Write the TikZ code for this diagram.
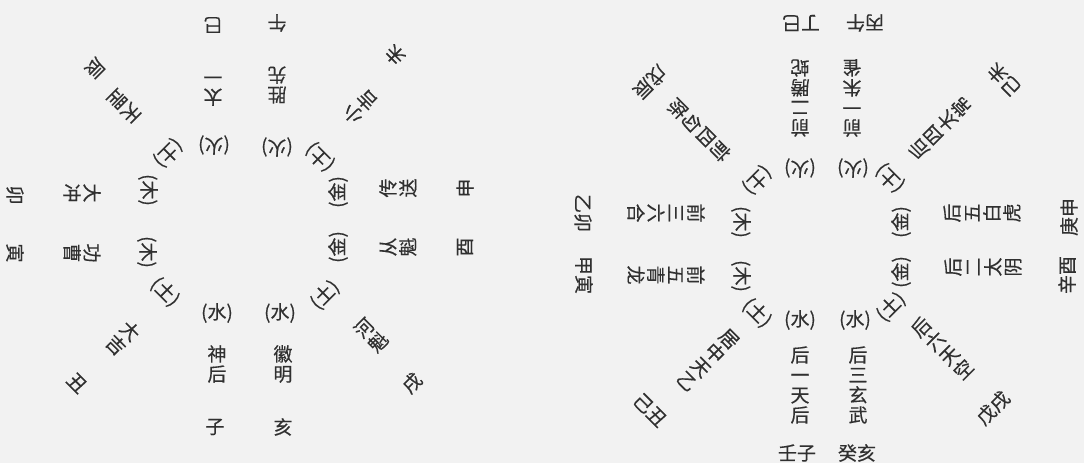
\documentclass[tikz,border=0pt]{standalone}
\usepackage{fontspec}
\newfontfamily\cjk[FakeBold=0.3]{Noto Sans CJK SC}
\definecolor{bg}{RGB}{242,242,242}
\definecolor{ink}{RGB}{48,48,48}
\tikzset{
  ch/.style={font=\cjk\fontsize{19}{20}\selectfont, text=ink, inner sep=0pt, align=center},
  dT/.style={ch, rotate=180},
  dTL/.style={ch, rotate=-135},
  dL/.style={ch, rotate=-90},
  dBL/.style={ch, rotate=-45},
  dB/.style={ch},
  dBR/.style={ch, rotate=45},
  dR/.style={ch, rotate=90},
  dTR/.style={ch, rotate=135}
}
\begin{document}
\begin{tikzpicture}[x=1pt,y=1pt]
\fill[bg] (0,0) rectangle (1084,-463);
\useasboundingbox (0,0) rectangle (1084,-463);
% ---------------- left diagram ----------------
% top
\node[dT] (Lsi) at (213,-25) {巳};
\node[dT] (Lwu) at (277,-23) {午};
\node[dT] (Lsin) at (213,-88) {太\\一};
\node[dT] (Lwun) at (277,-85) {胜\\先};
\node[dT] (Lsie) at (214,-145) {(火)};
\node[dT] (Lwue) at (277,-147) {(火)};
% top-left
\node[dTL] (Lche) at (168,-153) {(土)};
\node[dTL] (Lchn) at (124,-106) {天\\罡};
\node[dTL] (Lch) at (95,-68) {辰};
% left
\node[dL] (Lmae) at (148,-190) {(木)};
\node[dL] (Lyie) at (147,-252) {(木)};
\node[dL] (Lman) at (82,-193) {大\\冲};
\node[dL] (Lyin) at (82,-253) {功\\曹};
\node[dL] (Lmao) at (15,-195) {卯};
\node[dL] (Lyin2) at (15,-253) {寅};
% bottom-left
\node[dBL] (Lchoe) at (165,-292) {(土)};
\node[dBL] (Lchon) at (123,-338) {大\\吉};
\node[dBL] (Lcho) at (77,-383) {丑};
% bottom
\node[dB] (Lzie) at (217,-313) {(水)};
\node[dB] (Lhae) at (280,-313) {(水)};
\node[dB] (Lzin) at (217,-364) {神\\后};
\node[dB] (Lhan) at (283,-364) {徽\\明};
\node[dB] (Lzi) at (215,-427) {子};
\node[dB] (Lhai) at (283,-427) {亥};
% bottom-right
\node[dBR] (Lxue) at (325,-295) {(土)};
\node[dBR] (Lxun) at (371,-335) {河\\魁};
\node[dBR] (Lxu) at (412,-383) {戌};
% right
\node[dR] (Lshe) at (338,-192) {(金)};
\node[dR] (Lyoe) at (338,-247) {(金)};
\node[dR] (Lshn) at (398,-188) {传\\送};
\node[dR] (Lyon) at (398,-247) {从\\魁};
\node[dR] (Lshen) at (465,-188) {申};
\node[dR] (Lyou) at (465,-247) {酉};
% top-right
\node[dTR] (Lwee) at (320,-157) {(土)};
\node[dTR] (Lwen) at (360,-107) {小\\吉};
\node[dTR] (Lwei) at (395,-55) {未};
% ---------------- right diagram ----------------
% top
\node[dT] (Rsi) at (801,-23) {丁巳};
\node[dT] (Rwu) at (865,-23) {丙午};
\node[dT] (Rsin) at (800,-98) {前\\二\\腾\\蛇};
\node[dT] (Rwun) at (852,-98) {前\\一\\朱\\雀};
\node[dT] (Rsie) at (800,-168) {(火)};
\node[dT] (Rwue) at (853,-168) {(火)};
% top-left
\node[dTL] (Rche) at (757,-180) {(土)};
\node[dTL] (Rchn) at (699,-130) {前\\四\\勾\\陈};
\node[dTL] (Rch) at (650,-82) {戊辰};
% left
\node[dL] (Rmae) at (741,-222) {(木)};
\node[dL] (Ryie) at (741,-276) {(木)};
\node[dL] (Rman) at (666,-213) {前\\三\\六\\合};
\node[dL] (Ryin) at (666,-275) {前\\五\\青\\龙};
\node[dL] (Rmao) at (583,-213) {乙卯};
\node[dL] (Ryin2) at (584,-275) {甲寅};
% bottom-left
\node[dBL] (Rchoe) at (757,-313) {(土)};
\node[dBL] (Rchon) at (708,-360) {居\\中\\天\\乙};
\node[dBL] (Rcho) at (650,-410) {己丑};
% bottom
\node[dB] (Rzie) at (800,-320) {(水)};
\node[dB] (Rhae) at (855,-320) {(水)};
\node[dB] (Rzin) at (800,-385) {后\\一\\天\\后};
\node[dB] (Rhan) at (858,-385) {后\\三\\玄\\武};
\node[dB] (Rzi) at (797,-453) {壬子};
\node[dB] (Rhai) at (857,-453) {癸亥};
% bottom-right
\node[dBR] (Rxue) at (891,-307) {(土)};
\node[dBR] (Rxun) at (942,-348) {后\\六\\天\\空};
\node[dBR] (Rxu) at (993,-408) {戊戌};
% right
\node[dR] (Rshe) at (901,-222) {(金)};
\node[dR] (Ryoe) at (901,-272) {(金)};
\node[dR] (Rshn) at (982,-213) {后\\五\\白\\虎};
\node[dR] (Ryon) at (983,-267) {后\\二\\太\\阴};
\node[dR] (Rshen) at (1069,-217) {庚申};
\node[dR] (Ryou) at (1067,-275) {辛酉};
% top-right
\node[dTR] (Rwee) at (890,-178) {(土)};
\node[dTR] (Rwen) at (940,-128) {后\\四\\太\\常};
\node[dTR] (Rwei) at (1004,-80) {己未};
\end{tikzpicture}
\end{document}
